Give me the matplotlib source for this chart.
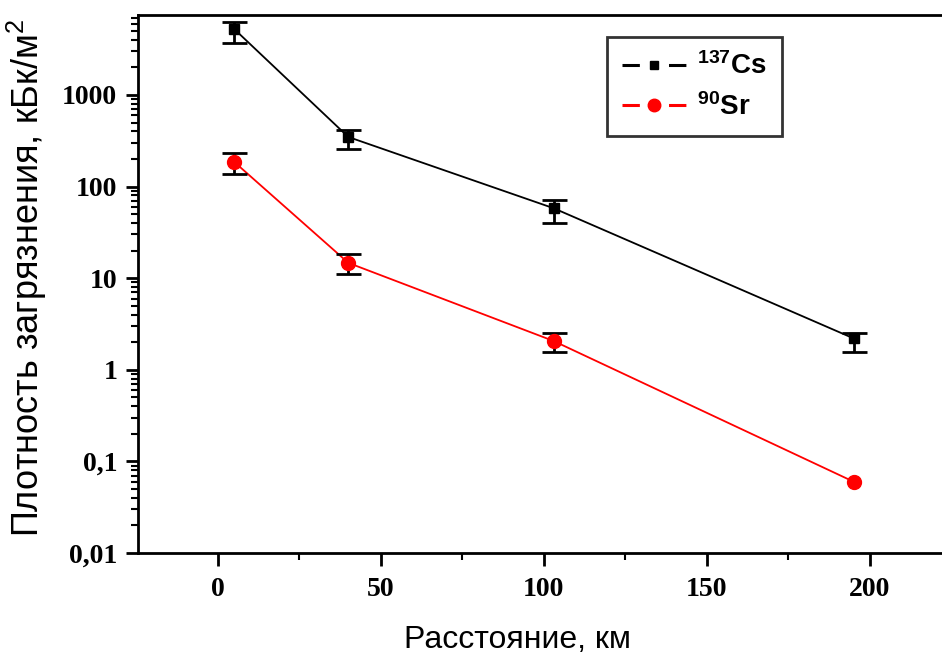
import matplotlib
matplotlib.use("Agg")
import matplotlib.pyplot as plt
from matplotlib.ticker import FixedLocator, LogLocator, NullFormatter, MultipleLocator
import numpy as np

plt.rcParams['mathtext.fontset'] = 'custom'
plt.rcParams['mathtext.bf'] = 'Liberation Sans:bold'
plt.rcParams['mathtext.rm'] = 'Liberation Sans'

distance = [5, 40, 103, 195]
cs_values = [5250, 348, 58, 2.2]
cs_err_low = [3700, 257, 40, 1.56]
cs_err_high = [6270, 415, 71, 2.52]
sr_values = [186, 14.7, 2.06, 0.06]
sr_err_low = [137, 11.1, 1.56, 0.06]
sr_err_high = [233, 18.4, 2.52, 0.06]

y_ticks = [0.01, 0.1, 1, 10, 100, 1000]
y_tick_labels = ['0,01', '0,1', '1', '10', '100', '1000']
x_ticks = [0, 50, 100, 150, 200]

fig = plt.figure(figsize=(9.42, 6.57), dpi=100)
ax = fig.add_axes([138/942, 104/657, 1 - 138/942, (553-15)/657])


def draw_errors(x, v, lo, hi):
    x = np.array(x, float); v = np.array(v, float)
    lo = np.array(lo, float); hi = np.array(hi, float)
    m = (hi - lo) > 0
    ax.errorbar(x[m], v[m], yerr=[v[m] - lo[m], hi[m] - v[m]], fmt='none',
                ecolor='black', elinewidth=2, capsize=9, capthick=2, zorder=3)


ax.plot(distance, cs_values, color='black', lw=1.3, zorder=2)
ax.plot(distance, sr_values, color='red', lw=1.3, zorder=2)
draw_errors(distance, cs_values, cs_err_low, cs_err_high)
draw_errors(distance, sr_values, sr_err_low, sr_err_high)
ax.plot(distance, cs_values, ls='none', marker='s', ms=7, color='black', zorder=4)
ax.plot(distance, sr_values, ls='none', marker='o', ms=10, color='red', zorder=4)

lw_leg = 2.2
h1, = ax.plot([], [], color='black', lw=lw_leg, marker='s', ms=6)
h2, = ax.plot([], [], color='red', lw=lw_leg, marker='o', ms=9)
h1.set_dashes([12.5 / lw_leg, 21 / lw_leg])
h2.set_dashes([12.5 / lw_leg, 21 / lw_leg])

ax.set_yscale('log')
ax.set_ylim(0.01, 7464)
ax.set_xlim(-24.5, 222.1)

ax.yaxis.set_major_locator(FixedLocator(y_ticks))
ax.set_yticklabels(y_tick_labels)
ax.yaxis.set_minor_locator(LogLocator(base=10, subs=np.arange(2, 10)))
ax.yaxis.set_minor_formatter(NullFormatter())
ax.xaxis.set_major_locator(FixedLocator(x_ticks))
ax.xaxis.set_minor_locator(MultipleLocator(25))

for lab in ax.get_xticklabels() + ax.get_yticklabels():
    lab.set_fontfamily('Liberation Serif')
    lab.set_fontweight('bold')
    lab.set_fontsize(20)

ax.tick_params(axis='both', which='major', direction='out', length=9, width=2, pad=6)
ax.tick_params(axis='both', which='minor', direction='out', length=5, width=1.5)
ax.tick_params(axis='x', which='major', pad=8)

for s in ['left', 'bottom', 'top']:
    ax.spines[s].set_linewidth(2)
ax.spines['right'].set_visible(False)

ax.set_ylabel('Плотность загрязнения, кБк/м$^2$', fontsize=26,
              family='Liberation Sans')
ax.yaxis.set_label_coords((27 - 138) / 804, (553 - 278) / 538)
ax.set_xlabel('Расстояние, км', fontsize=23, family='Liberation Sans')
ax.xaxis.set_label_coords((518 - 138) / 804, (553 - 640) / 538)
ax.xaxis.label.set_va('center')
ax.yaxis.label.set_va('center')

leg = ax.legend([h1, h2], [r'$\mathbf{^{137}Cs}$', r'$\mathbf{^{90}Sr}$'],
                loc='upper left', bbox_to_anchor=((607-138)/(942-138), (553-37)/(553-15)),
                bbox_transform=ax.transAxes, borderaxespad=0, fontsize=20, frameon=True,
                fancybox=False, edgecolor='black', handlelength=2.3, borderpad=0.55,
                labelspacing=0.45, handletextpad=0.4)
leg.get_frame().set_linewidth(2)

fig.savefig('out.png', dpi=100)
